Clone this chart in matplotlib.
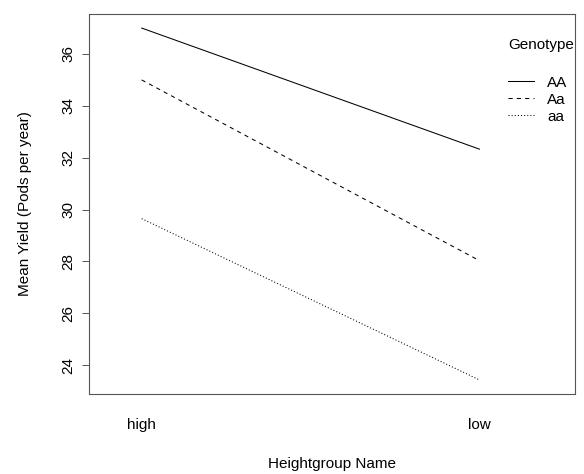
import matplotlib
matplotlib.use("Agg")
import matplotlib.pyplot as plt

# mean yield by height group for each genotype
groups = ["high", "low"]
genotypes = ["AA", "Aa", "aa"]
yield_AA = [37.0, 32.33]
yield_Aa = [35.0, 28.03]
yield_aa = [29.65, 23.43]
series = [yield_AA, yield_Aa, yield_aa]
styles = ["-", (0, (4, 4)), (0, (1, 2))]

plt.rcParams['font.family'] = ['Liberation Sans', 'DejaVu Sans']

fig = plt.figure(figsize=(5.84, 4.74), dpi=100)
ax = fig.add_axes([0.1524, 0.1688, 0.8322, 0.8017])

xs = [1, 2]
for name, vals, ls in zip(genotypes, series, styles):
    ax.plot(xs, vals, color="black", lw=0.75, linestyle=ls, label=name)

lo = min(min(s) for s in series)
hi = max(max(s) for s in series)
pad = (hi - lo) * 0.04
ax.set_ylim(lo - pad, hi + pad)
ax.set_xlim(0.844, 2.283)

ax.set_yticks([24, 26, 28, 30, 32, 34, 36])
ax.set_xticks(xs)
ax.set_xticklabels(groups)
ax.tick_params(axis="y", length=5, width=0.7, color="#555555", labelsize=11, pad=5,
               labelrotation=90)
for t in ax.get_yticklabels():
    t.set_va("center")
ax.tick_params(axis="x", length=0, labelsize=11, pad=17)
for s in ax.spines.values():
    s.set_color("#555555")
    s.set_linewidth(0.8)

ax.set_xlabel("Heightgroup Name", fontsize=11, labelpad=18)
ax.set_ylabel("Mean Yield (Pods per year)", fontsize=11, labelpad=21)

ax.text(0.862, 0.918, "Genotype", transform=ax.transAxes, fontsize=11,
        ha="left", va="center")
leg = ax.legend(loc="upper left", bbox_to_anchor=(0.862, 0.838),
                frameon=False, fontsize=11, handlelength=1.7,
                handletextpad=0.85, labelspacing=0.2, borderaxespad=0,
                borderpad=0)

fig.savefig("out.png", dpi=100)
